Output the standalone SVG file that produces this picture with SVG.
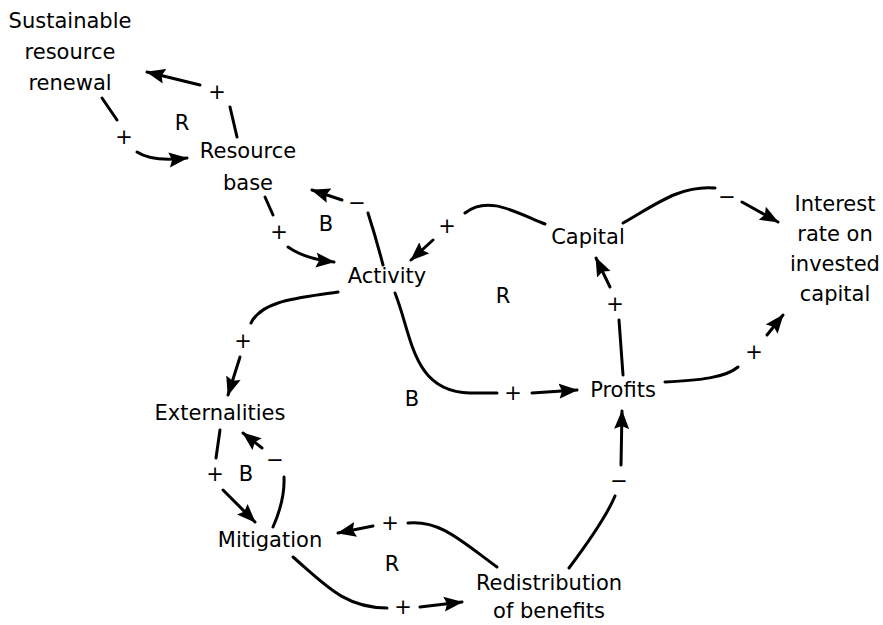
<svg xmlns="http://www.w3.org/2000/svg" width="883" height="625" viewBox="0 0 883 625">
<style>
text{font-family:"DejaVu Sans","Liberation Sans",sans-serif;font-size:21px;fill:#000;text-anchor:middle}
.c path{fill:none;stroke:#000;stroke-width:3;stroke-linecap:round}
.c path.h{marker-end:url(#ah)}
</style>
<defs>
<marker id="ah" markerUnits="userSpaceOnUse" markerWidth="20" markerHeight="16" refX="18" refY="7.5" orient="auto" viewBox="0 0 20 15">
<path d="M0,0 L19,7.5 L0,15 L3,7.5 z" fill="#000"/>
</marker>
</defs>
<rect width="883" height="625" fill="#fff"/>
<g class="c" id="connectors">
<path d="M237,137 L230,107"/><path class="h" d="M200,85 L147,72"/>
<path d="M102,98 L117,120"/><path class="h" d="M137,152 Q152,162 187,158"/>
<path d="M383,265 Q376,238 368,213"/><path class="h" d="M342,200 L312,190"/>
<path d="M265,197 L273,215"/><path class="h" d="M288,247 Q305,259 334,262"/>
<path d="M545,224 C515,212 488,195 465,213"/><path class="h" d="M433,240 L411,260"/>
<path d="M623,223 C655,205 680,185 715,188"/><path class="h" d="M742,202 L778,222"/>
<path d="M623,375 L619,320"/><path class="h" d="M610,287 L596,258"/>
<path d="M665,382 C700,380 725,378 738,367"/><path class="h" d="M767,335 L783,315"/>
<path d="M338,292 C300,298 262,300 251,323"/><path class="h" d="M240,357 L228,395"/>
<path d="M395,293 C412,335 412,392 470,393 L497,393"/><path class="h" d="M532,393 L577,390"/>
<path d="M220,430 L216,458"/><path class="h" d="M223,490 L255,522"/>
<path d="M273,527 Q285,500 284,477"/><path class="h" d="M262,448 L243,433"/>
<path d="M497,567 C460,540 440,520 408,523"/><path class="h" d="M373,526 L338,533"/>
<path d="M293,557 C325,585 345,608 387,608"/><path class="h" d="M420,607 L462,602"/>
<path d="M569,568 Q605,520 615,496"/><path class="h" d="M621,465 L622,411"/>
</g>
<g id="signs">
<text x="217" y="99">+</text>
<text x="124" y="144">+</text>
<text x="357" y="210">−</text>
<text x="279" y="239">+</text>
<text x="447" y="233">+</text>
<text x="727" y="204">−</text>
<text x="615" y="311">+</text>
<text x="754" y="359">+</text>
<text x="243" y="348">+</text>
<text x="513" y="400">+</text>
<text x="215" y="481">+</text>
<text x="275" y="467">−</text>
<text x="390" y="530">+</text>
<text x="403" y="614">+</text>
<text x="619" y="488">−</text>
</g>
<g id="loops">
<text x="182" y="130">R</text>
<text x="326" y="231">B</text>
<text x="503" y="303">R</text>
<text x="412" y="406">B</text>
<text x="246" y="481">B</text>
<text x="392" y="571">R</text>
</g>
<g id="n-sustainable"><text x="70" y="28">Sustainable</text><text x="70" y="59">resource</text><text x="70" y="90">renewal</text></g>
<g id="n-resource"><text x="248" y="158">Resource</text><text x="248" y="190">base</text></g>
<g id="n-activity"><text x="387" y="283">Activity</text></g>
<g id="n-capital"><text x="588" y="244">Capital</text></g>
<g id="n-interest"><text x="835" y="211">Interest</text><text x="835" y="241">rate on</text><text x="835" y="271">invested</text><text x="835" y="301">capital</text></g>
<g id="n-profits"><text x="623" y="397">Profits</text></g>
<g id="n-externalities"><text x="220" y="420">Externalities</text></g>
<g id="n-mitigation"><text x="270" y="547">Mitigation</text></g>
<g id="n-redistribution"><text x="549" y="590">Redistribution</text><text x="549" y="618">of benefits</text></g>
</svg>
